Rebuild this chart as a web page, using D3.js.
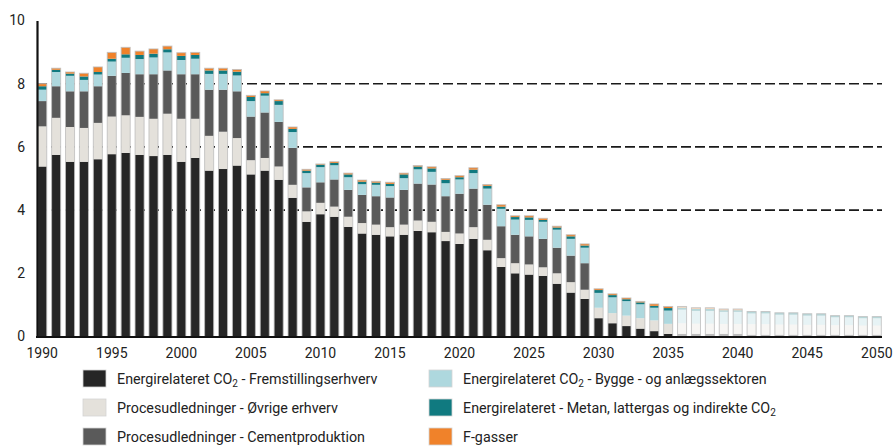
<!DOCTYPE html>
<meta charset="utf-8">
<style>
body { margin: 0; background: #fff; font-family: Roboto, Arial, sans-serif; }
.tick text { font-family: Roboto, Arial, sans-serif; font-size: 14px; fill: #222; }
.legend text { font-family: Roboto, Arial, sans-serif; font-size: 14.3px; fill: #222; }
</style>
<script src="https://d3js.org/d3.v7.min.js"></script>
<body>
<div id="chart"></div>
<script>
// years on the x axis
var years = d3.range(1990, 2051);
var projectedFrom = 2036;

// series values, million tonnes CO2e
var fremstilling = [5.38,5.75,5.53,5.53,5.61,5.77,5.81,5.75,5.71,5.75,5.53,5.65,5.25,5.30,5.41,5.13,5.25,4.96,4.39,3.63,
  3.87,3.79,3.47,3.26,3.22,3.17,3.22,3.34,3.30,3.02,2.93,3.09,2.73,2.20,2.00,1.96,1.92,1.67,1.39,1.19,
  0.58,0.42,0.33,0.25,0.17,0.08,0.08,0.08,0.08,0.08,0.08,0.05,0.05,0.05,0.05,0.05,0.05,0.05,0.05,0.05,0.05];
var oevrige = [1.27,1.17,1.10,1.07,1.15,1.19,1.19,1.20,1.18,1.30,1.36,1.24,1.10,1.18,0.87,0.45,0.40,0.42,0.41,0.33,
  0.36,0.32,0.32,0.33,0.32,0.29,0.32,0.33,0.33,0.29,0.33,0.37,0.33,0.28,0.32,0.32,0.27,0.33,0.33,0.29,
  0.33,0.32,0.33,0.33,0.34,0.32,0.34,0.33,0.33,0.32,0.32,0.34,0.34,0.33,0.33,0.32,0.32,0.31,0.31,0.30,0.30];
var cement = [0.80,1.00,1.13,1.16,1.16,1.29,1.34,1.35,1.41,1.37,1.41,1.41,1.46,1.33,1.48,1.38,1.44,1.41,1.17,0.76,
  0.65,0.86,0.85,0.89,0.90,0.94,1.10,1.17,1.18,1.13,1.26,1.22,1.11,1.01,0.90,0.89,0.90,0.81,0.84,0.84,
  0,0,0,0,0,0,0,0,0,0,0,0,0,0,0,0,0,0,0,0,0];
var bygge = [0.36,0.45,0.49,0.36,0.37,0.45,0.48,0.48,0.53,0.57,0.45,0.49,0.50,0.50,0.50,0.49,0.53,0.54,0.50,0.45,
  0.48,0.45,0.40,0.34,0.36,0.36,0.37,0.45,0.40,0.41,0.45,0.49,0.51,0.55,0.48,0.52,0.54,0.57,0.53,0.49,
  0.47,0.50,0.46,0.44,0.40,0.42,0.43,0.40,0.40,0.38,0.38,0.34,0.34,0.31,0.31,0.29,0.29,0.25,0.25,0.23,0.23];
var metan = [0.11,0.07,0.07,0.11,0.08,0.09,0.11,0.13,0.12,0.10,0.13,0.12,0.11,0.11,0.12,0.13,0.08,0.12,0.10,0.08,
  0.08,0.07,0.09,0.08,0.07,0.07,0.12,0.09,0.11,0.11,0.07,0.11,0.09,0.07,0.08,0.08,0.06,0.07,0.08,0.07,
  0.09,0.07,0.06,0.06,0.06,0.08,0.06,0.06,0.06,0.05,0.05,0.06,0.06,0.06,0.06,0.06,0.06,0.05,0.05,0.05,0.05];
var fgasser = [0.08,0.05,0.05,0.10,0.16,0.20,0.22,0.12,0.15,0.10,0.10,0.08,0.07,0.07,0.07,0.05,0.07,0.04,0.06,0.04,
  0.02,0.04,0.04,0.05,0.04,0.05,0.04,0.03,0.05,0.04,0.05,0.06,0.04,0.06,0.04,0.05,0.05,0.04,0.05,0.05,
  0.04,0.04,0.04,0.03,0.06,0.05,0.04,0.04,0.04,0.04,0.04,0,0,0,0,0,0,0,0,0,0];

var seriesKeys = ["fremstilling", "oevrige", "cement", "bygge", "metan", "fgasser"];
var seriesColors = ["#262626", "#e4e1db", "#5a5a5a", "#aed8de", "#107a80", "#f0822a"];
var yTicks = [0, 2, 4, 6, 8, 10];
var gridTicks = [4, 6, 8];
var xTicks = [1990, 1995, 2000, 2005, 2010, 2015, 2020, 2025, 2030, 2035, 2040, 2045, 2050];

// build rows for d3.stack
var rows = years.map(function(y, i) {
  return { year: y, fremstilling: fremstilling[i], oevrige: oevrige[i], cement: cement[i],
           bygge: bygge[i], metan: metan[i], fgasser: fgasser[i] };
});
function total(d) { return d.fremstilling + d.oevrige + d.cement + d.bygge + d.metan + d.fgasser; }

var width = 895, height = 446;
var svg = d3.select("#chart").append("svg")
  .attr("width", width)
  .attr("height", height);

var x = d3.scaleBand()
  .domain(years)
  .range([37, 882])
  .paddingInner(0.35)
  .paddingOuter(0.05);

var y = d3.scaleLinear()
  .domain([0, 10])
  .range([336.5, 20.5]);

var color = d3.scaleOrdinal().domain(seriesKeys).range(seriesColors);

// dashed gridlines (behind the bars)
svg.append("g")
  .selectAll("line")
  .data(gridTicks)
  .enter()
  .append("line")
    .attr("x1", 37).attr("x2", 882)
    .attr("y1", function(d) { return y(d); })
    .attr("y2", function(d) { return y(d); })
    .attr("stroke", "#1a1a1a")
    .attr("stroke-width", 1.6)
    .attr("stroke-dasharray", "10,4");

var stacked = d3.stack().keys(seriesKeys)(rows);

// white base so faded bars don't show the gridlines through
svg.append("g")
  .selectAll("rect")
  .data(rows)
  .enter()
  .append("rect")
    .attr("x", function(d) { return x(d.year); })
    .attr("width", x.bandwidth())
    .attr("y", function(d) { return y(total(d)); })
    .attr("height", function(d) { return y(0) - y(total(d)); })
    .attr("fill", "#fff");

// the stacked bars
svg.append("g")
  .selectAll("g")
  .data(stacked)
  .enter()
  .append("g")
    .attr("fill", function(d) { return color(d.key); })
  .selectAll("rect")
  .data(function(d) { return d; })
  .enter()
  .append("rect")
    .attr("x", function(d) { return x(d.data.year); })
    .attr("width", x.bandwidth())
    .attr("y", function(d) { return y(d[1]); })
    .attr("height", function(d) { return Math.max(0, y(d[0]) - y(d[1])); })
    .attr("opacity", function(d) { return d.data.year >= projectedFrom ? 0.3 : 1; });

// faint grey outline around each bar
svg.append("g")
  .selectAll("rect")
  .data(rows)
  .enter()
  .append("rect")
    .attr("x", function(d) { return x(d.year); })
    .attr("width", x.bandwidth())
    .attr("y", function(d) { return y(total(d)); })
    .attr("height", function(d) { return y(0) - y(total(d)); })
    .attr("fill", "none")
    .attr("stroke", "#bdbdbd")
    .attr("stroke-opacity", 0.8)
    .attr("stroke-width", 1);

// y axis
var yAxis = svg.append("g")
  .attr("transform", "translate(37,0)")
  .call(d3.axisLeft(y).tickValues(yTicks).tickSize(0).tickPadding(12).tickFormat(d3.format("d")));
yAxis.select(".domain").attr("stroke", "#111").attr("stroke-width", 2.2);

// x axis
var xAxis = svg.append("g")
  .attr("transform", "translate(0,337)")
  .call(d3.axisBottom(x).tickValues(xTicks).tickSize(0).tickPadding(11));
xAxis.select(".domain").attr("d", "M36,0H882").attr("stroke", "#111").attr("stroke-width", 2.2);

// legend
var legendItems = [
  { key: "fremstilling", col: 0, row: 0, parts: ["Energirelateret CO", "2", " - Fremstillingserhverv"] },
  { key: "oevrige", col: 0, row: 1, parts: ["Procesudledninger - Øvrige erhverv"] },
  { key: "cement", col: 0, row: 2, parts: ["Procesudledninger - Cementproduktion"] },
  { key: "bygge", col: 1, row: 0, parts: ["Energirelateret CO", "2", " - Bygge - og anlægssektoren"] },
  { key: "metan", col: 1, row: 1, parts: ["Energirelateret - Metan, lattergas og indirekte CO", "2"] },
  { key: "fgasser", col: 1, row: 2, parts: ["F-gasser"] }
];

var legend = svg.append("g").attr("class", "legend")
  .selectAll("g")
  .data(legendItems)
  .enter()
  .append("g")
    .attr("transform", function(d) { return "translate(" + (d.col ? 429 : 83) + "," + (370 + d.row * 29) + ")"; });

legend.append("rect")
  .attr("width", 23)
  .attr("height", 17)
  .attr("fill", function(d) { return color(d.key); })
  .attr("stroke", "#d4d4d4")
  .attr("stroke-width", 0.8);

legend.append("text")
  .attr("x", 34)
  .attr("y", 14)
  .each(function(d) {
    var t = d3.select(this);
    d.parts.forEach(function(p, i) {
      var ts = t.append("tspan").text(p);
      if (i == 1) ts.attr("font-size", "10px").attr("dy", 3);
      if (i == 2) ts.attr("dy", -3);
    });
  });
</script>
</body>
